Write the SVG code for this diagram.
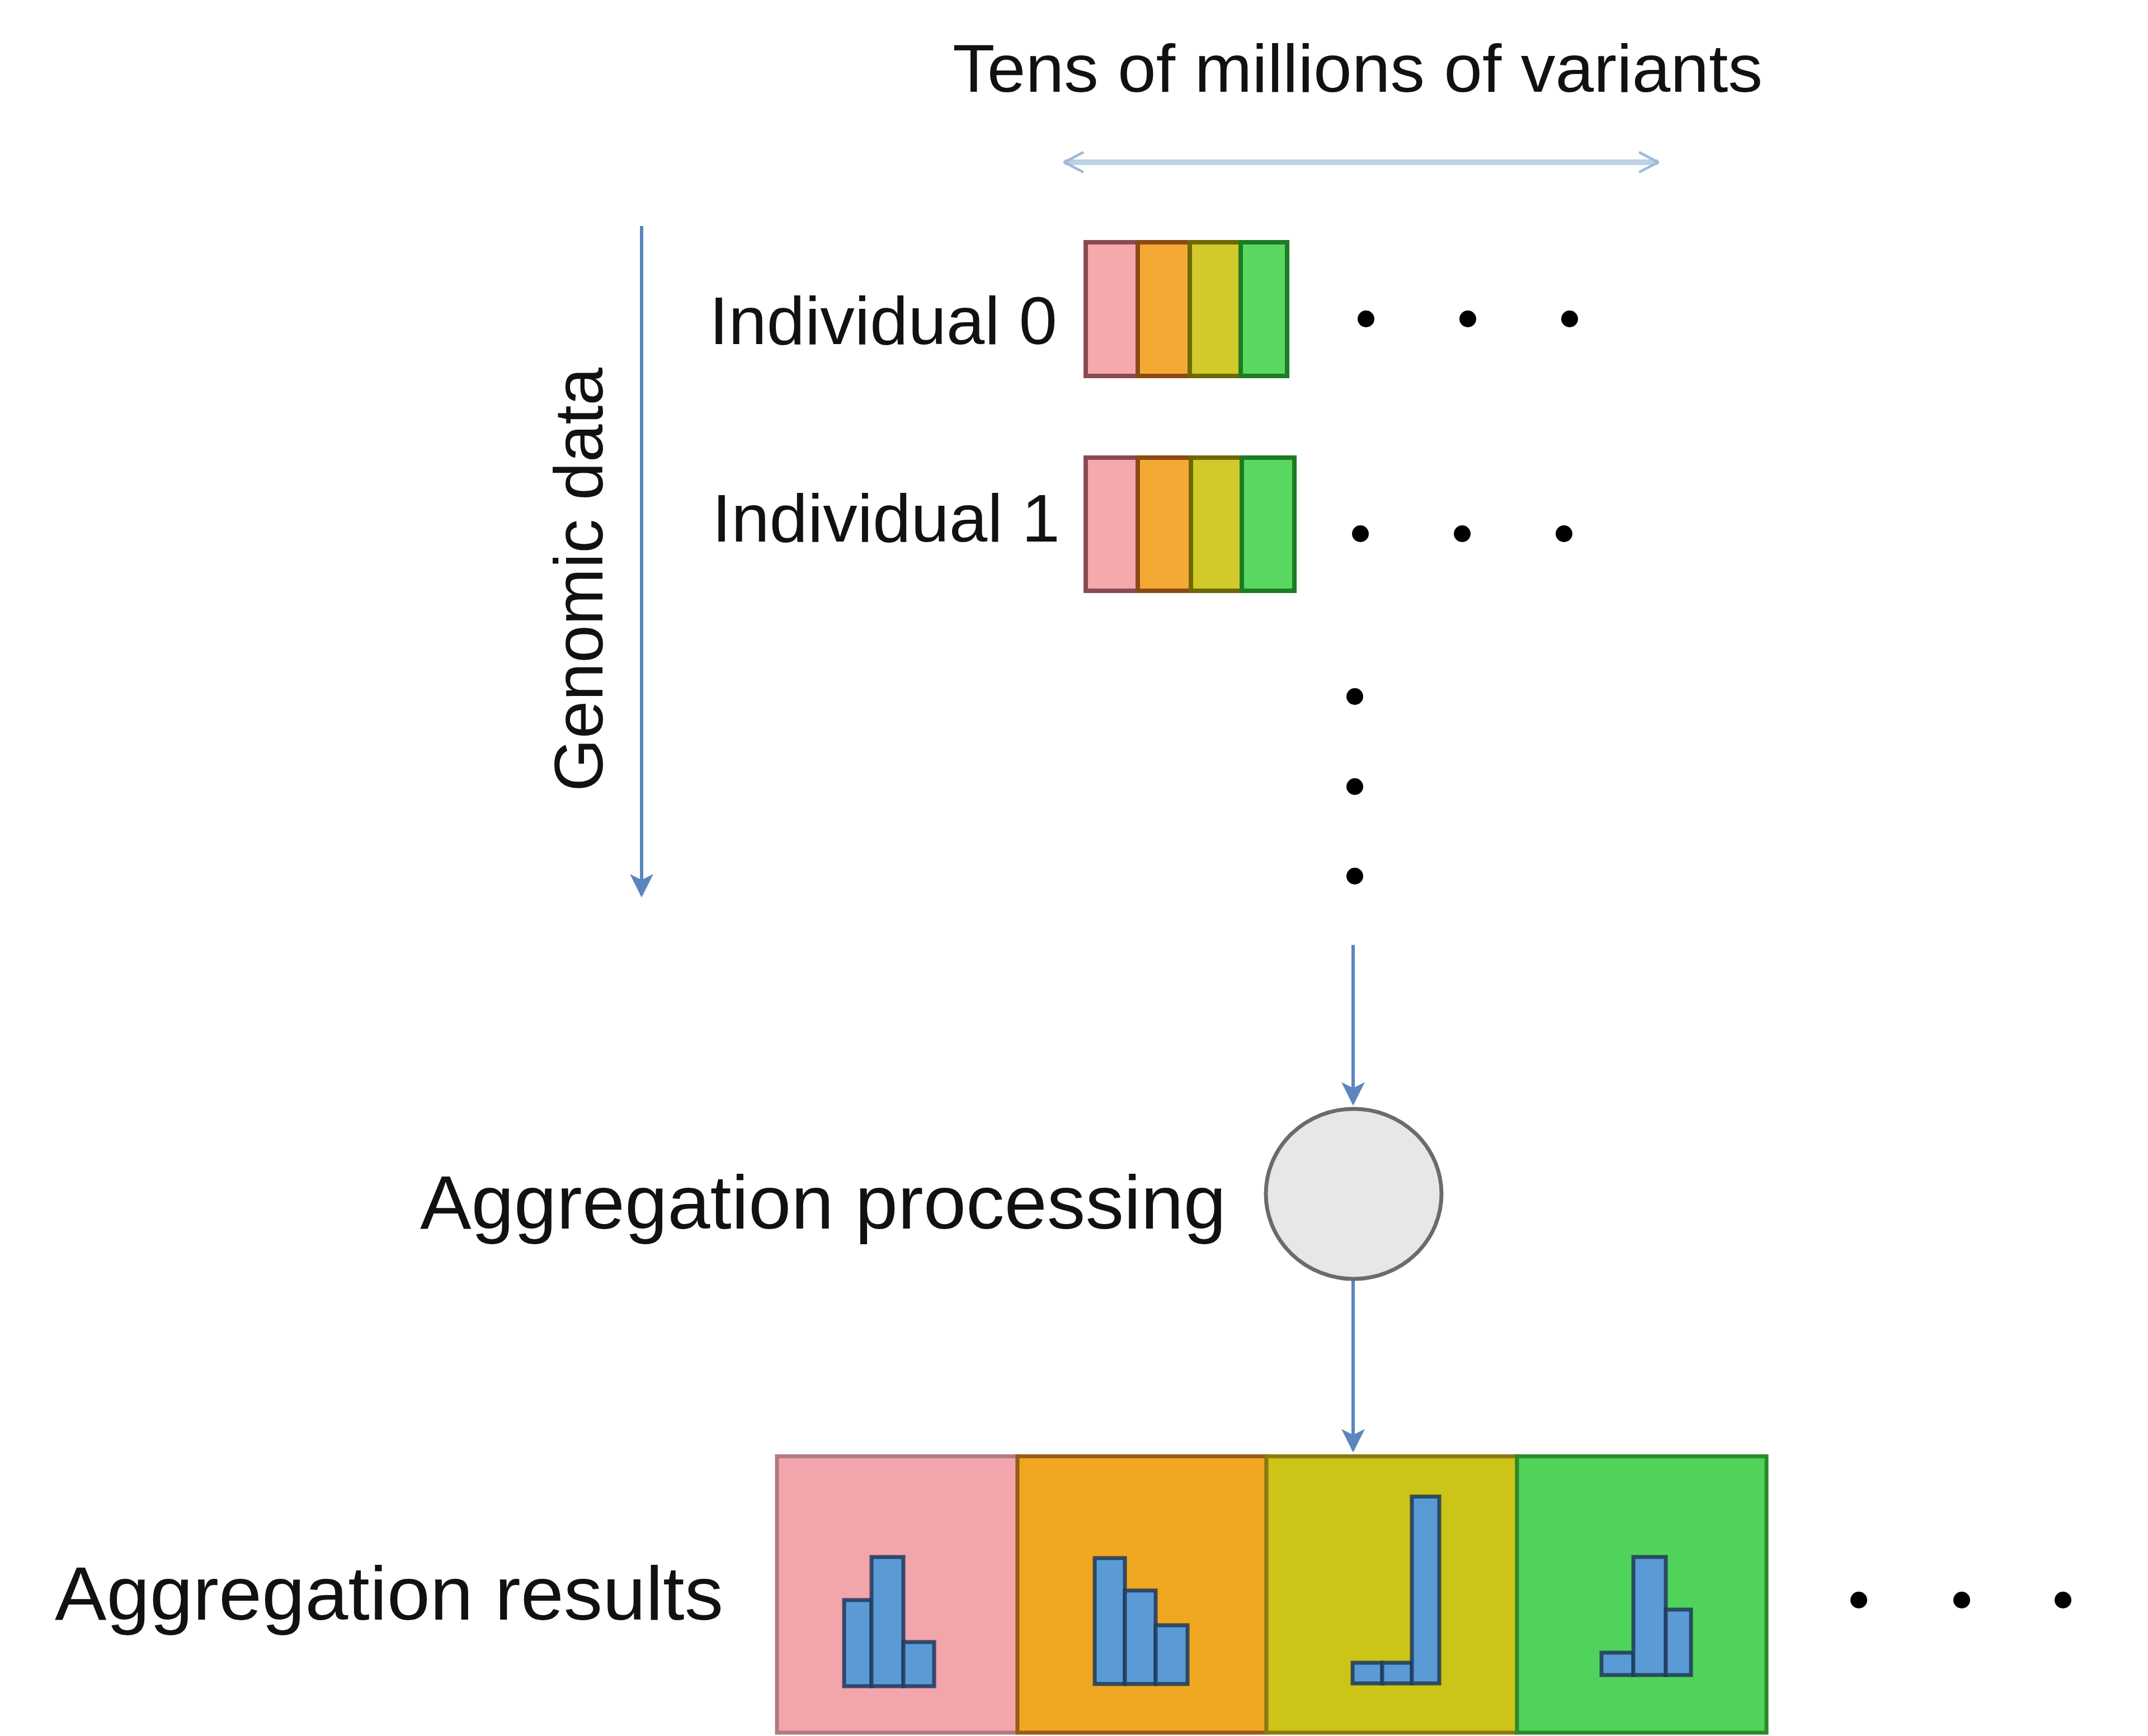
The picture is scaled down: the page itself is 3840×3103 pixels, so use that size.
<svg xmlns="http://www.w3.org/2000/svg" width="3840" height="3103" viewBox="0 0 3840 3103">
<style>
.lbl{font-family:"Liberation Sans",Arial,sans-serif;fill:#111;}
.c-pink{fill:#f5a9ad;stroke:#8a4a52;stroke-width:8;}
.c-orange{fill:#f5a935;stroke:#8a4a12;stroke-width:8;}
.c-yellow{fill:#d2c92a;stroke:#6e6800;stroke-width:8;}
.c-green{fill:#58d860;stroke:#1e7a24;stroke-width:8;}
.r-pink{fill:#f2a5ab;stroke:#b07a80;stroke-width:7;}
.r-orange{fill:#f0a722;stroke:#9a5a18;stroke-width:7;}
.r-yellow{fill:#ccc416;stroke:#8a7a10;stroke-width:7;}
.r-green{fill:#50d35a;stroke:#2a8a2a;stroke-width:7;}
.bar{fill:#5b9bd5;stroke:#1f3a5a;stroke-opacity:0.85;stroke-width:7;}
.dot{fill:#000;}
.conn{stroke:#5b86bd;stroke-width:6;fill:none;}
</style>
<defs>
<marker id="ah" viewBox="0 0 10 10" refX="9" refY="5" markerWidth="7" markerHeight="7" markerUnits="strokeWidth" orient="auto">
<path d="M0,0 L10,5 L0,10 L2.5,5 z" fill="#5b86bd"/>
</marker>
<marker id="chev" viewBox="0 0 10 10" refX="9.5" refY="5" markerWidth="4" markerHeight="7" markerUnits="strokeWidth" orient="auto-start-reverse">
<path d="M1,0.5 L9.5,5 L1,9.5" fill="none" stroke="#9dbbd8" stroke-width="1.2"/>
</marker>
</defs>
<rect width="3840" height="3103" fill="#ffffff"/>

<g id="connectors">
<line x1="1903" y1="290" x2="2964" y2="290" stroke="#bdd0e4" stroke-width="10" marker-start="url(#chev)" marker-end="url(#chev)"/>
<line class="conn" x1="1147" y1="404" x2="1147" y2="1600" marker-end="url(#ah)"/>
<line class="conn" x1="2419" y1="1689" x2="2419" y2="1972" marker-end="url(#ah)"/>
<line class="conn" x1="2419" y1="2288" x2="2419" y2="2592" marker-end="url(#ah)"/>
</g>

<g id="label-variants">
<text class="lbl" x="1703" y="164" font-size="120" textLength="1448" lengthAdjust="spacingAndGlyphs">Tens of millions of variants</text>
</g>

<g id="label-genomic">
<text class="lbl" transform="translate(1077,1036) rotate(-90)" x="0" y="0" font-size="122" text-anchor="middle" textLength="758" lengthAdjust="spacingAndGlyphs">Genomic data</text>
</g>

<g id="individual-0">
<text class="lbl" x="1268" y="615" font-size="120" textLength="622" lengthAdjust="spacingAndGlyphs">Individual 0</text>
<rect class="c-pink" x="1941" y="433" width="93" height="239"/>
<rect class="c-orange" x="2034" y="433" width="93" height="239"/>
<rect class="c-yellow" x="2127" y="433" width="91" height="239"/>
<rect class="c-green" x="2218" y="433" width="83" height="239"/>
<circle class="dot" cx="2442" cy="570" r="15"/>
<circle class="dot" cx="2624" cy="570" r="15"/>
<circle class="dot" cx="2806" cy="570" r="15"/>
</g>

<g id="individual-1">
<text class="lbl" x="1273" y="968" font-size="120" textLength="622" lengthAdjust="spacingAndGlyphs">Individual 1</text>
<rect class="c-pink" x="1941" y="818" width="93" height="238"/>
<rect class="c-orange" x="2034" y="818" width="95" height="238"/>
<rect class="c-yellow" x="2129" y="818" width="91" height="238"/>
<rect class="c-green" x="2220" y="818" width="94" height="238"/>
<circle class="dot" cx="2432" cy="954" r="15"/>
<circle class="dot" cx="2614" cy="954" r="15"/>
<circle class="dot" cx="2796" cy="954" r="15"/>
</g>

<g id="more-individuals">
<circle class="dot" cx="2422" cy="1245" r="15"/>
<circle class="dot" cx="2422" cy="1406" r="15"/>
<circle class="dot" cx="2422" cy="1566" r="15"/>
</g>

<g id="aggregation-processing">
<ellipse cx="2420" cy="2134" rx="157" ry="152" fill="#e7e7e7" stroke="#6b6b6b" stroke-width="7"/>
<text class="lbl" x="751" y="2196" font-size="135" textLength="1441" lengthAdjust="spacingAndGlyphs">Aggregation processing</text>
</g>

<g id="aggregation-results">
<text class="lbl" x="98" y="2895" font-size="135" textLength="1195" lengthAdjust="spacingAndGlyphs">Aggregation results</text>
<rect class="r-pink" x="1389" y="2603" width="430" height="494"/>
<rect class="r-orange" x="1819" y="2603" width="445" height="494"/>
<rect class="r-yellow" x="2264" y="2603" width="448" height="494"/>
<rect class="r-green" x="2712" y="2603" width="446" height="494"/>
<rect class="bar" x="1509" y="2860" width="49" height="154"/>
<rect class="bar" x="1558" y="2783" width="57" height="231"/>
<rect class="bar" x="1615" y="2935" width="55" height="79"/>
<rect class="bar" x="1957" y="2785" width="54" height="225"/>
<rect class="bar" x="2011" y="2843" width="55" height="167"/>
<rect class="bar" x="2066" y="2905" width="57" height="105"/>
<rect class="bar" x="2418" y="2972" width="53" height="37"/>
<rect class="bar" x="2471" y="2972" width="53" height="37"/>
<rect class="bar" x="2524" y="2675" width="49" height="334"/>
<rect class="bar" x="2863" y="2954" width="57" height="40"/>
<rect class="bar" x="2920" y="2783" width="58" height="211"/>
<rect class="bar" x="2978" y="2877" width="45" height="117"/>
<circle class="dot" cx="3323" cy="2860" r="15"/>
<circle class="dot" cx="3507" cy="2860" r="15"/>
<circle class="dot" cx="3688" cy="2860" r="15"/>
</g>
</svg>
